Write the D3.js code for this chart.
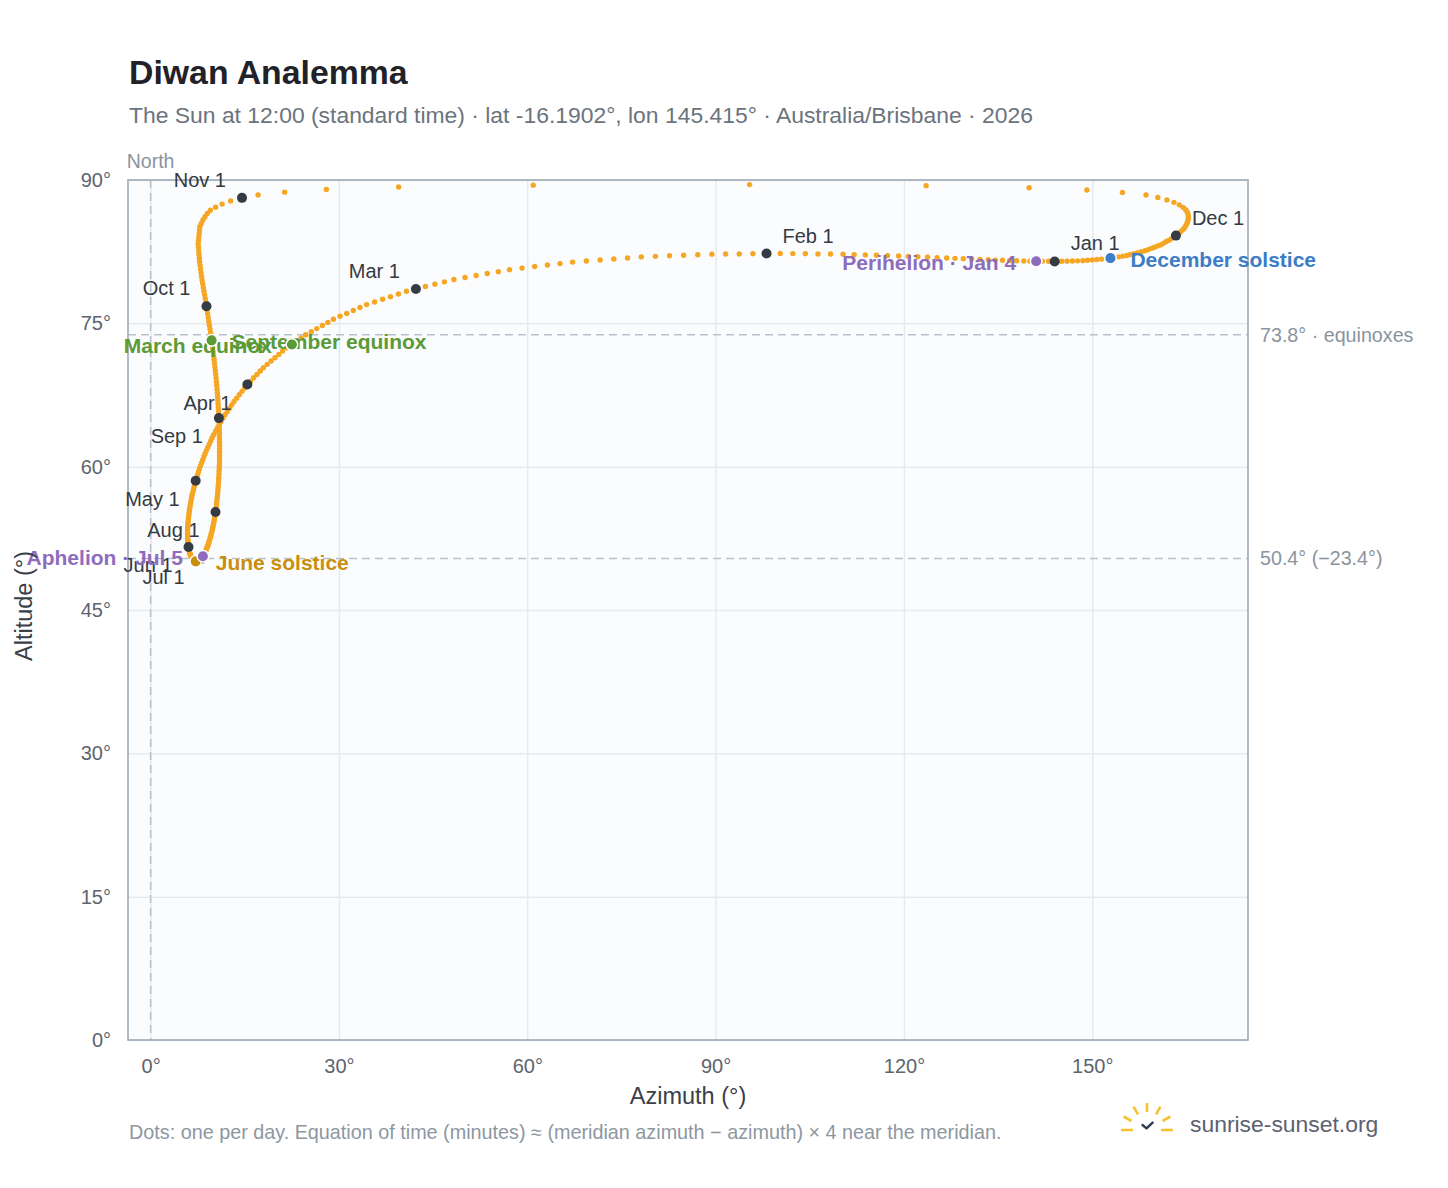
<!DOCTYPE html>
<html>
<head>
<meta charset="utf-8">
<title>Diwan Analemma</title>
<script src="https://cdn.jsdelivr.net/npm/d3@7"></script>
<style>
  body { margin: 0; background: #fff; }
  svg { display: block; font-family: "Liberation Sans", Arial, Helvetica, sans-serif; }
</style>
</head>
<body>
<svg id="chart" width="1448" height="1188"></svg>
<script>
// sun position at 12:00 AEST, one value per day, Jan 1 .. Dec 31 2026
var azimuth = [
  144.01,143.03,142.04,141.06,140.07,139.09,137.96,136.82,135.69,134.55,
  133.42,132.10,130.78,129.45,128.13,126.81,125.28,123.75,122.21,120.68,
  119.15,117.38,115.61,113.84,112.07,110.30,108.30,106.30,104.29,102.29,
  100.29,98.11,95.94,93.76,91.59,89.41,87.16,84.91,82.66,80.41,
  78.16,75.97,73.78,71.60,69.41,67.22,65.21,63.20,61.18,59.17,
  57.16,55.39,53.62,51.85,50.08,48.31,46.80,45.29,43.77,42.26,
  40.75,39.48,38.21,36.95,35.68,34.41,33.35,32.29,31.24,30.18,
  29.12,28.24,27.36,26.47,25.59,24.71,23.98,23.24,22.51,21.77,
  21.04,20.43,19.81,19.20,18.58,17.97,17.46,16.94,16.43,15.92,
  15.41,14.98,14.56,14.13,13.71,13.28,12.93,12.58,12.22,11.87,
  11.52,11.23,10.94,10.64,10.35,10.05,9.81,9.58,9.34,9.11,
  8.87,8.68,8.49,8.30,8.11,7.92,7.77,7.62,7.48,7.33,
  7.18,7.07,6.96,6.85,6.74,6.63,6.55,6.48,6.40,6.33,
  6.25,6.20,6.15,6.11,6.06,6.01,5.99,5.96,5.94,5.91,
  5.89,5.89,5.89,5.90,5.90,5.90,5.92,5.94,5.97,5.99,
  6.01,6.04,6.08,6.11,6.15,6.18,6.23,6.28,6.34,6.39,
  6.44,6.50,6.57,6.63,6.70,6.76,6.83,6.90,6.97,7.04,
  7.11,7.19,7.27,7.34,7.42,7.50,7.58,7.66,7.75,7.83,
  7.91,7.99,8.08,8.16,8.25,8.33,8.41,8.50,8.58,8.67,
  8.75,8.83,8.91,9.00,9.08,9.16,9.24,9.31,9.39,9.46,
  9.54,9.61,9.68,9.76,9.83,9.90,9.97,10.03,10.10,10.16,
  10.23,10.28,10.34,10.39,10.45,10.50,10.54,10.58,10.63,10.67,
  10.71,10.74,10.77,10.81,10.84,10.87,10.89,10.91,10.94,10.96,
  10.98,10.98,10.98,10.99,10.99,10.99,10.98,10.97,10.97,10.96,
  10.95,10.93,10.90,10.88,10.85,10.83,10.79,10.75,10.72,10.68,
  10.64,10.59,10.53,10.48,10.42,10.37,10.30,10.24,10.17,10.11,
  10.04,9.96,9.88,9.80,9.72,9.64,9.55,9.46,9.36,9.27,
  9.18,9.09,8.99,8.90,8.80,8.71,8.61,8.50,8.40,8.30,
  8.20,8.12,8.04,7.96,7.88,7.80,7.76,7.71,7.67,7.62,
  7.58,7.63,7.69,7.74,7.80,7.85,8.07,8.34,8.66,9.04,
  9.52,10.35,11.39,12.75,14.56,17.12,21.35,28.00,39.51,60.95,
  95.41,123.53,139.93,149.14,154.80,158.55,160.44,161.89,163.00,163.85,
  164.45,164.85,165.10,165.24,165.30,165.30,165.24,165.13,164.98,164.80,
  164.58,164.30,163.99,163.66,163.32,162.97,162.55,162.14,161.72,161.31,
  160.89,160.39,159.89,159.39,158.89,158.39,157.82,157.24,156.67,156.09,
  155.52,154.86,154.20,153.55,152.89,152.23,151.48,150.74,149.99,149.25,
  148.50,147.66,146.82,145.97,145.13
];
var altitude = [
  81.48,81.49,81.50,81.50,81.51,81.52,81.55,81.57,81.60,81.62,
  81.65,81.69,81.73,81.76,81.80,81.84,81.88,81.92,81.97,82.01,
  82.05,82.09,82.12,82.16,82.19,82.23,82.25,82.26,82.28,82.29,
  82.31,82.30,82.28,82.27,82.25,82.24,82.18,82.13,82.07,82.01,
  81.95,81.84,81.73,81.63,81.52,81.41,81.25,81.10,80.94,80.78,
  80.62,80.41,80.21,80.00,79.80,79.59,79.34,79.10,78.85,78.60,
  78.35,78.07,77.79,77.52,77.24,76.96,76.65,76.35,76.04,75.74,
  75.43,75.10,74.78,74.45,74.13,73.80,73.46,73.12,72.78,72.44,
  72.10,71.75,71.40,71.06,70.71,70.36,70.01,69.65,69.30,68.94,
  68.59,68.24,67.88,67.53,67.17,66.82,66.47,66.12,65.78,65.43,
  65.08,64.73,64.39,64.04,63.70,63.35,63.02,62.68,62.35,62.01,
  61.68,61.36,61.03,60.71,60.38,60.06,59.75,59.45,59.14,58.84,
  58.53,58.24,57.95,57.67,57.38,57.09,56.82,56.56,56.29,56.03,
  55.76,55.52,55.28,55.03,54.79,54.55,54.33,54.11,53.89,53.67,
  53.45,53.26,53.07,52.89,52.70,52.51,52.35,52.19,52.04,51.88,
  51.72,51.59,51.46,51.33,51.20,51.07,50.97,50.87,50.78,50.68,
  50.58,50.51,50.45,50.38,50.32,50.25,50.22,50.19,50.15,50.12,
  50.09,50.09,50.09,50.10,50.10,50.10,50.14,50.17,50.21,50.24,
  50.28,50.35,50.42,50.49,50.56,50.63,50.73,50.83,50.94,51.04,
  51.14,51.28,51.41,51.55,51.68,51.82,51.98,52.14,52.31,52.47,
  52.63,52.83,53.03,53.22,53.42,53.62,53.85,54.07,54.30,54.52,
  54.75,55.00,55.25,55.51,55.76,56.01,56.29,56.57,56.84,57.12,
  57.40,57.70,58.00,58.30,58.60,58.90,59.22,59.54,59.86,60.18,
  60.50,60.84,61.18,61.51,61.85,62.19,62.55,62.91,63.26,63.62,
  63.98,64.35,64.71,65.08,65.44,65.81,66.19,66.57,66.96,67.34,
  67.72,68.11,68.50,68.88,69.27,69.66,70.05,70.45,70.84,71.24,
  71.63,72.03,72.43,72.82,73.22,73.62,74.02,74.41,74.81,75.20,
  75.60,76.00,76.39,76.79,77.19,77.59,77.98,78.37,78.76,79.15,
  79.54,79.92,80.31,80.69,81.07,81.45,81.82,82.20,82.57,82.95,
  83.32,83.68,84.04,84.40,84.76,85.12,85.46,85.81,86.15,86.49,
  86.84,87.16,87.48,87.81,88.13,88.44,88.73,89.01,89.26,89.46,
  89.52,89.41,89.20,88.96,88.70,88.43,88.17,87.92,87.66,87.40,
  87.14,86.90,86.67,86.43,86.20,85.96,85.75,85.54,85.33,85.12,
  84.91,84.73,84.54,84.36,84.18,84.00,83.84,83.68,83.53,83.37,
  83.21,83.09,82.96,82.84,82.71,82.59,82.49,82.39,82.30,82.20,
  82.10,82.03,81.96,81.90,81.83,81.76,81.72,81.68,81.64,81.60,
  81.56,81.54,81.52,81.51,81.49
];

// first-of-month markers (day of year) and where their label sits
var monthNames = ["Jan 1", "Feb 1", "Mar 1", "Apr 1", "May 1", "Jun 1", "Jul 1", "Aug 1", "Sep 1", "Oct 1", "Nov 1", "Dec 1"];
var monthDays = [1, 32, 60, 91, 121, 152, 182, 213, 244, 274, 305, 335];
var monthSide = ["ur", "ur", "ul", "ll", "ll", "ll", "ll", "ll", "ll", "ul", "ul", "ur"];

// solstices, equinoxes, perihelion / aphelion
var eventNames = ["March equinox", "June solstice", "September equinox", "December solstice", "Perihelion · Jan 4", "Aphelion · Jul 5"];
var eventDays = [79, 172, 265, 355, 4, 186];
var eventColors = ["#5a9a37", "#c98f0c", "#5a9a37", "#3b7dc6", "#8e6cbd", "#8e6cbd"];
var eventAnchor = ["end", "start", "start", "start", "end", "end"];

var xTicks = [0, 30, 60, 90, 120, 150];
var yTicks = [0, 15, 30, 45, 60, 75, 90];

var refAltitudes = [73.8, 50.4];
var refLabels = ["73.8° · equinoxes", "50.4° (−23.4°)"];

var plot = {left: 128, right: 1248, top: 180, bottom: 1040};
var guideColor = "#b8c2cc";

var svg = d3.select("#chart");
var x = d3.scaleLinear().domain([-3.6, 174.8]).range([plot.left, plot.right]);
var y = d3.scaleLinear().domain([0, 90]).range([plot.bottom, plot.top]);

function drawFrame() {
  svg.append("rect")
    .attr("x", plot.left).attr("y", plot.top)
    .attr("width", plot.right - plot.left).attr("height", plot.bottom - plot.top)
    .attr("fill", "#fbfcfe");

  var gx = svg.append("g")
    .attr("transform", "translate(0," + plot.bottom + ")")
    .call(d3.axisBottom(x).tickValues(xTicks).tickFormat(function(d) { return d + "°"; })
      .tickSize(-(plot.bottom - plot.top)).tickPadding(19));
  var gy = svg.append("g")
    .attr("transform", "translate(" + plot.left + ",0)")
    .call(d3.axisLeft(y).tickValues(yTicks).tickFormat(function(d) { return d + "°"; })
      .tickSize(-(plot.right - plot.left)).tickPadding(17));

  [gx, gy].forEach(function(g) {
    g.select(".domain").remove();
    g.selectAll(".tick line").attr("stroke", "#e6eaf0").attr("stroke-width", 1.5);
    g.selectAll(".tick text").attr("fill", "#5c646e").attr("font-size", 20)
      .attr("font-family", "Liberation Sans, Arial, sans-serif");
  });

  // north meridian and reference altitudes
  svg.append("line")
    .attr("x1", x(0)).attr("x2", x(0)).attr("y1", plot.top).attr("y2", plot.bottom)
    .attr("stroke", guideColor).attr("stroke-width", 1.5).attr("stroke-dasharray", "8,5");
  svg.append("text")
    .attr("x", x(0)).attr("y", plot.top - 12).attr("text-anchor", "middle")
    .attr("font-size", 19.5).attr("fill", "#8a939d").text("North");

  refAltitudes.forEach(function(a, i) {
    svg.append("line")
      .attr("x1", plot.left).attr("x2", plot.right).attr("y1", y(a)).attr("y2", y(a))
      .attr("stroke", guideColor).attr("stroke-width", 1.5).attr("stroke-dasharray", "8,5");
    svg.append("text")
      .attr("x", plot.right + 12).attr("y", y(a)).attr("dy", "0.35em")
      .attr("font-size", 19.7).attr("fill", "#8a949e").text(refLabels[i]);
  });

  svg.append("rect")
    .attr("x", plot.left).attr("y", plot.top)
    .attr("width", plot.right - plot.left).attr("height", plot.bottom - plot.top)
    .attr("fill", "none").attr("stroke", "#9ea9b5").attr("stroke-width", 1.6);
}

function drawAnalemma() {
  var days = d3.range(azimuth.length);
  svg.append("g").selectAll("circle")
    .data(days)
    .enter().append("circle")
    .attr("cx", function(d) { return x(azimuth[d]); })
    .attr("cy", function(d) { return y(altitude[d]); })
    .attr("r", 2.7)
    .attr("fill", "#f5a623");

  var months = svg.append("g");
  monthDays.forEach(function(day, i) {
    var cx = x(azimuth[day - 1]), cy = y(altitude[day - 1]);
    months.append("circle").attr("cx", cx).attr("cy", cy).attr("r", 5).attr("fill", "#353b44");
    var right = monthSide[i] === "ur";
    months.append("text")
      .attr("x", right ? cx + 16 : cx - 16)
      .attr("y", monthSide[i] === "ll" ? cy + 18 : cy - 18)
      .attr("dy", "0.35em")
      .attr("text-anchor", right ? "start" : "end")
      .attr("font-size", 20).attr("fill", "#343a42")
      .text(monthNames[i]);
  });

  var events = svg.append("g");
  eventDays.forEach(function(day, i) {
    var cx = x(azimuth[day - 1]), cy = y(altitude[day - 1]);
    events.append("text")
      .attr("x", eventAnchor[i] === "start" ? cx + 20 : cx - 20)
      .attr("y", cy + 1.5).attr("dy", "0.35em")
      .attr("text-anchor", eventAnchor[i])
      .attr("font-size", 21).attr("font-weight", "bold")
      .attr("fill", eventColors[i])
      .text(eventNames[i]);
  });
  eventDays.forEach(function(day, i) {
    events.append("circle")
      .attr("cx", x(azimuth[day - 1])).attr("cy", y(altitude[day - 1]))
      .attr("r", 5.8).attr("fill", eventColors[i])
      .attr("stroke", "#fff").attr("stroke-width", 1.5);
  });
}

function drawText() {
  svg.append("text").attr("x", 129).attr("y", 84)
    .attr("font-size", 33.8).attr("font-weight", "bold").attr("fill", "#1f2329")
    .text("Diwan Analemma");
  svg.append("text").attr("x", 129).attr("y", 123)
    .attr("font-size", 22.9).attr("fill", "#6b737c")
    .text("The Sun at 12:00 (standard time) · lat -16.1902°, lon 145.415° · Australia/Brisbane · 2026");

  svg.append("text").attr("x", (plot.left + plot.right) / 2).attr("y", 1104)
    .attr("text-anchor", "middle").attr("font-size", 23.5).attr("fill", "#3a4048")
    .text("Azimuth (°)");
  svg.append("text")
    .attr("transform", "translate(32," + ((plot.top + plot.bottom) / 2 - 4) + ") rotate(-90)")
    .attr("text-anchor", "middle").attr("font-size", 23.5).attr("fill", "#3a4048")
    .text("Altitude (°)");

  svg.append("text").attr("x", 129).attr("y", 1139)
    .attr("font-size", 19.8).attr("fill", "#8d97a1")
    .text("Dots: one per day. Equation of time (minutes) ≈ (meridian azimuth − azimuth) × 4 near the meridian.");
}

// little sun logo + site name
function drawLogo() {
  var logo = svg.append("g").attr("transform", "translate(1147,1130)");
  var sun = "#f6c232";
  [[-26, -14], [14, 26]].forEach(function(seg) {
    logo.append("line").attr("x1", seg[0]).attr("x2", seg[1]).attr("y1", 0).attr("y2", 0)
      .attr("stroke", sun).attr("stroke-width", 2.6);
  });
  [150, 120, 90, 60, 30].forEach(function(a) {
    var r = a * Math.PI / 180;
    logo.append("line")
      .attr("x1", 18 * Math.cos(r)).attr("y1", -18 * Math.sin(r))
      .attr("x2", 27 * Math.cos(r)).attr("y2", -27 * Math.sin(r))
      .attr("stroke", sun).attr("stroke-width", 2.6);
  });
  logo.append("path").attr("d", "M-4.5,-5 L-0.5,-1.6 L5.6,-7.4")
    .attr("fill", "none").attr("stroke", "#2e3d52").attr("stroke-width", 2.4)
    .attr("stroke-linecap", "round").attr("stroke-linejoin", "round");
  svg.append("text").attr("x", 1190).attr("y", 1132)
    .attr("font-size", 22.9).attr("fill", "#5b6170").text("sunrise-sunset.org");
}

drawFrame();
drawAnalemma();
drawText();
drawLogo();
</script>
</body>
</html>
